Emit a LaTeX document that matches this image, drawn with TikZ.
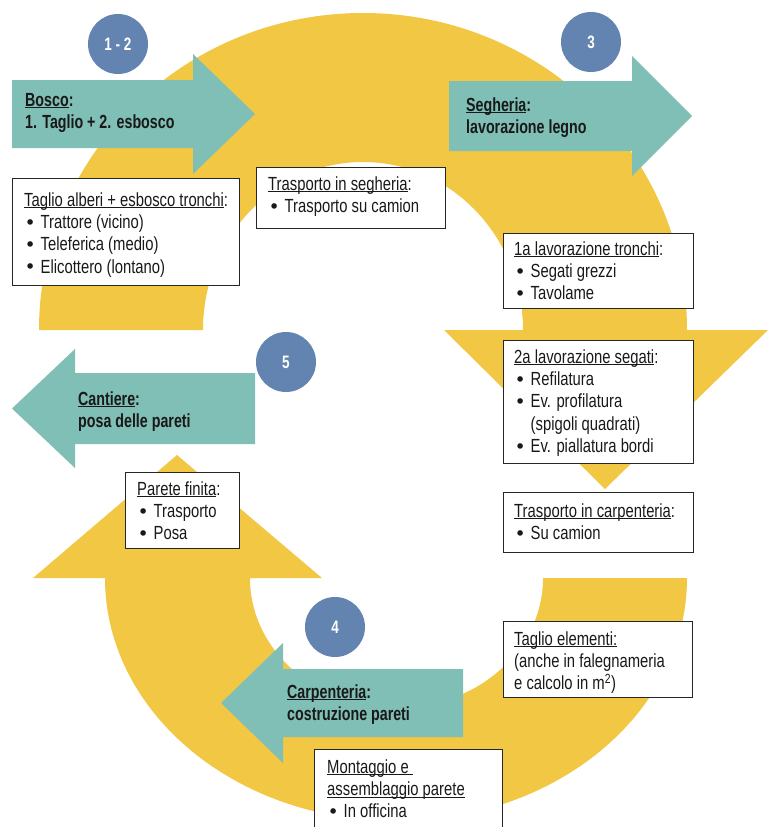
\documentclass[tikz,border=0pt]{standalone}
\usepackage{fontspec}
\setmainfont{Liberation Sans}[FakeStretch=0.78]
\newfontfamily\boldcond{Liberation Sans}[FakeStretch=0.75]
\newfontfamily\bulletfont{DejaVu Sans}
\definecolor{arcyellow}{HTML}{F2C744}
\definecolor{stepteal}{HTML}{80BFB6}
\definecolor{stepblue}{HTML}{6384B0}
\newsavebox\ulbox
\newcommand\ulx[1]{\sbox\ulbox{#1}\rlap{\rule[-2.2pt]{\wd\ulbox}{0.9pt}}\usebox\ulbox}
\newcommand\bul{\makebox[16.5pt][l]{\hspace{0.5pt}\raisebox{-0.6pt}{\bulletfont\fontsize{19pt}{19pt}\selectfont •}}}
\newcommand\lines[1]{\begin{tabular}[t]{@{}l@{}}#1\end{tabular}}
\tikzset{
  yarc/.style={fill=arcyellow},
  tarrow/.style={fill=stepteal},
  stepnum/.style={circle, fill=stepblue, minimum size=60pt, inner sep=0pt, text=white,
    font=\boldcond\fontsize{18pt}{22pt}\selectfont\bfseries},
  infobox/.style={rectangle, draw=black!85, line width=1pt, fill=white, anchor=north west, inner sep=0pt},
  infotext/.style={anchor=base west, inner sep=0pt, text=black!90,
    font=\fontsize{19pt}{22.4pt}\selectfont},
  arrtext/.style={anchor=base west, inner sep=0pt, text=black!90,
    font=\boldcond\fontsize{19pt}{22pt}\selectfont\bfseries}
}
\begin{document}
\begin{tikzpicture}[x=1pt,y=-1pt]
\useasboundingbox (0,0) rectangle (773,827);
\clip (0,0) rectangle (773,827);
% yellow cycle
\fill[yarc] (39,330) arc[start angle=180, end angle=360, x radius=324, y radius=317]
  -- (768,330) -- (605,489) -- (444,330) -- (523,330)
  arc[start angle=0, end angle=-180, x radius=160, y radius=168] -- cycle;
\fill[yarc] (687,578) arc[start angle=0, end angle=180, x radius=291, y radius=243]
  -- (33,578) -- (177,455) -- (322,578) -- (250,578)
  arc[start angle=180, end angle=0, x radius=146.5, y radius=130] -- cycle;
% teal arrows
\fill[tarrow] (12,80) -- (193,80) -- (193,54) -- (255,114) -- (193,174) -- (193,148) -- (12,148) -- cycle;
\fill[tarrow] (449,81) -- (632,81) -- (632,56) -- (692,116) -- (632,176) -- (632,151) -- (449,151) -- cycle;
\fill[tarrow] (255,373) -- (75,373) -- (75,349) -- (12,408.5) -- (75,468) -- (75,444) -- (255,444) -- cycle;
\fill[tarrow] (463,669) -- (283,669) -- (283,643) -- (221,703) -- (283,763) -- (283,737) -- (463,737) -- cycle;
% arrow texts
\node[arrtext] (a1) at (25,106) {\lines{\ulx{Bosco}:\\1. Taglio + 2. esbosco}};
\node[arrtext] (a2) at (466,111) {\lines{\ulx{Segheria}:\\lavorazione legno}};
\node[arrtext] (a3) at (78,405) {\lines{\ulx{Cantiere}:\\posa delle pareti}};
\node[arrtext] (a4) at (287,698) {\lines{\ulx{Carpenteria}:\\costruzione pareti}};
% step circles
\node[stepnum] (c12) at (118,44) {1 - 2};
\node[stepnum] (c3) at (591,42) {3};
\node[stepnum] (c5) at (286,362) {5};
\node[stepnum] (c4) at (335,627) {4};
% boxes
\node[infobox, minimum width=227pt, minimum height=107pt] (b1) at (12,178) {};
\node[infobox, minimum width=189pt, minimum height=61pt] (b2) at (256,167) {};
\node[infobox, minimum width=190pt, minimum height=75pt] (b3) at (503,233) {};
\node[infobox, minimum width=190pt, minimum height=123pt] (b4) at (503,340) {};
\node[infobox, minimum width=190pt, minimum height=60pt] (b5) at (503,492) {};
\node[infobox, minimum width=114pt, minimum height=76pt] (b6) at (125,472) {};
\node[infobox, minimum width=189pt, minimum height=76pt] (b7) at (503,621) {};
\node[infobox, minimum width=188pt, minimum height=110pt] (b8) at (314,749) {};
% box texts
\node[infotext] (t1) at (24,206) {\lines{\ulx{Taglio alberi + esbosco tronchi}:\\
  \bul Trattore (vicino)\\ \bul Teleferica (medio)\\ \bul Elicottero (lontano)}};
\node[infotext] (t2) at (268,190) {\lines{\ulx{Trasporto in segheria}:\\ \bul Trasporto su camion}};
\node[infotext] (t3) at (514,255) {\lines{\ulx{1a lavorazione tronchi}:\\ \bul Segati grezzi\\ \bul Tavolame}};
\node[infotext] (t4) at (514,363) {\lines{\ulx{2a lavorazione segati}:\\ \bul Refilatura\\
  \bul Ev. profilatura\\ \hspace{16.5pt}(spigoli quadrati)\\ \bul Ev. piallatura bordi}};
\node[infotext] (t5) at (514,517) {\lines{\ulx{Trasporto in carpenteria}:\\ \bul Su camion}};
\node[infotext] (t6) at (137,495) {\lines{\ulx{Parete finita}:\\ \bul Trasporto\\ \bul Posa}};
\node[infotext] (t7) at (514,645) {\lines{\ulx{Taglio elementi:}\\ (anche in falegnameria\\ e calcolo in m\textsuperscript{2})}};
\node[infotext] (t8) at (327,773) {\lines{\ulx{Montaggio e\ }\\ \ulx{assemblaggio parete}\\ \bul In officina}};
\end{tikzpicture}
\end{document}
